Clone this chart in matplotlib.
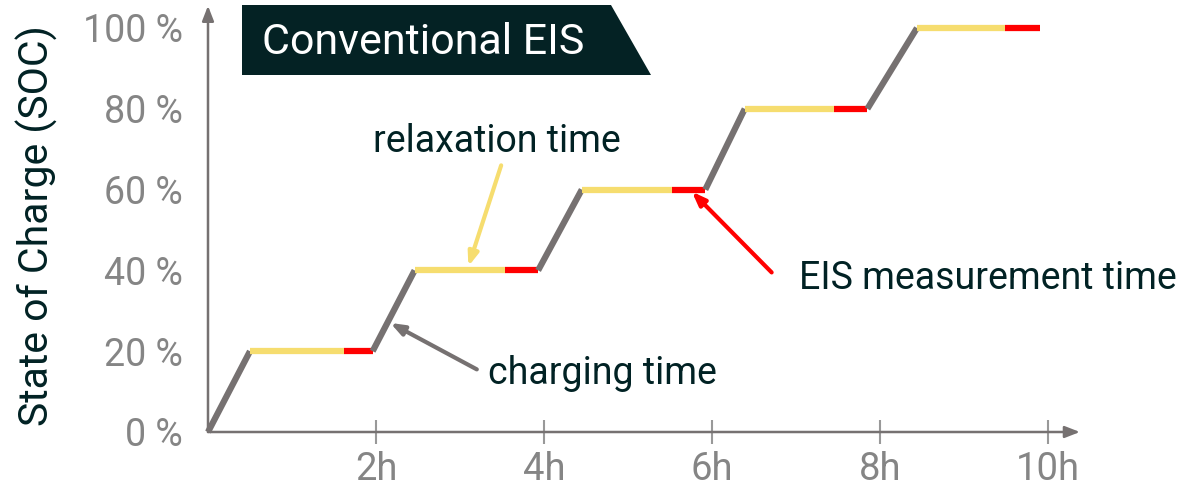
import matplotlib.pyplot as plt
from matplotlib.patches import Polygon

plt.rcParams['font.family'] = ['Roboto', 'DejaVu Sans']

# step profile, times in hours, SOC in %
soc_levels = [20, 40, 60, 80, 100]
charge_start = [0.0, 1.96, 3.93, 5.92, 7.85]
charge_end = [0.5, 2.46, 4.45, 6.39, 8.44]
relax_end = [1.62, 3.54, 5.52, 7.45, 9.49]
eis_end = [1.96, 3.93, 5.92, 7.85, 9.90]

x_ticks = [2, 4, 6, 8, 10]
x_labels = ['2h', '4h', '6h', '8h', '10h']
y_ticks = [0, 20, 40, 60, 80, 100]
y_labels = ['0 %', '20 %', '40 %', '60 %', '80 %', '100 %']

grey = '#767171'
yellow = '#F6DD6F'
red = '#FF0000'
dark = '#012224'
label_grey = '#858585'

W, H = 1178, 491
fig = plt.figure(figsize=(W / 100, H / 100), dpi=100)
ax = fig.add_axes([208 / W, (H - 432) / H, 840 / W, 404 / H])
ax.set_xlim(0, 10)
ax.set_ylim(0, 100)
for s in ax.spines.values():
    s.set_visible(False)

#charging ramps, relaxation and EIS segments
prev = 0
for i, lvl in enumerate(soc_levels):
    ax.plot([charge_start[i], charge_end[i]], [prev, lvl], color=grey, lw=4.5,
            solid_capstyle='butt', clip_on=False, zorder=3)
    ax.plot([charge_end[i], relax_end[i]], [lvl, lvl], color=yellow, lw=4.5,
            solid_capstyle='butt', clip_on=False, zorder=3)
    ax.plot([relax_end[i], eis_end[i]], [lvl, lvl], color=red, lw=4.5,
            solid_capstyle='butt', clip_on=False, zorder=3)
    prev = lvl

# axes with arrow heads
ax.annotate('', xy=(10.38, 0), xytext=(0, 0),
            arrowprops=dict(arrowstyle='-|>,head_length=0.9,head_width=0.35',
                            color=grey, lw=1.8, shrinkA=0, shrinkB=0),
            annotation_clip=False)
ax.annotate('', xy=(0, 105.5), xytext=(0, 0),
            arrowprops=dict(arrowstyle='-|>,head_length=0.9,head_width=0.35',
                            color=grey, lw=1.8, shrinkA=0, shrinkB=0),
            annotation_clip=False)

ax.set_xticks(x_ticks)
ax.set_xticklabels(x_labels)
ax.set_yticks(y_ticks)
ax.set_yticklabels(y_labels)
ax.tick_params(axis='x', direction='inout', length=17, width=1.5, color='#999999',
               labelsize=27.5, labelcolor=label_grey, pad=5)
ax.tick_params(axis='y', length=0, labelsize=27, labelcolor=label_grey, pad=18)

ax.set_ylabel('State of Charge (SOC)', fontsize=29.5, color=dark)
ax.yaxis.set_label_coords(-(208 - 58) / 840, 0.51)

# title box
box = Polygon([[242, H - 5], [611, H - 5], [651, H - 75], [242, H - 75]],
              closed=True, transform=None, facecolor='#042224', edgecolor='none')
fig.patches.append(box)
fig.text(262 / W, (H - 42) / H, 'Conventional EIS', fontsize=31, color='white',
         va='center', ha='left')

# annotations
ax.annotate('', xy=(3.1, 41), xytext=(3.49, 66),
            arrowprops=dict(arrowstyle='-|>,head_length=0.8,head_width=0.3',
                            color=yellow, lw=3, shrinkA=0, shrinkB=0))
ax.text(1.97, 72, 'relaxation time', fontsize=27, color=dark, ha='left', va='center')

ax.annotate('', xy=(2.17, 27), xytext=(3.2, 15.5),
            arrowprops=dict(arrowstyle='-|>,head_length=0.8,head_width=0.3',
                            color=grey, lw=3, shrinkA=0, shrinkB=0))
ax.text(3.33, 14.5, 'charging time', fontsize=27, color=dark, ha='left', va='center')

ax.annotate('', xy=(5.76, 59.5), xytext=(6.71, 39.5),
            arrowprops=dict(arrowstyle='-|>,head_length=0.8,head_width=0.3',
                            color=red, lw=3, shrinkA=0, shrinkB=0))
ax.text(7.03, 38, 'EIS measurement time', fontsize=27, color=dark, ha='left', va='center')

fig.savefig('out.png', dpi=100)
